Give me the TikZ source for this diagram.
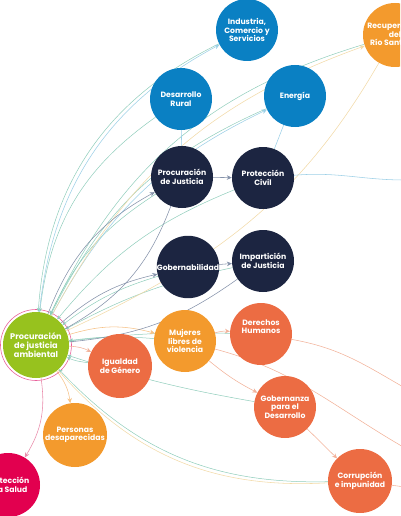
\documentclass[tikz,border=0pt]{standalone}
\usepackage{fontspec}
\newfontfamily\nodefont{Poppins}
\usetikzlibrary{arrows.meta,backgrounds}
\definecolor{cblue}{HTML}{0A80C3}
\definecolor{cnavy}{HTML}{1C2541}
\definecolor{corange}{HTML}{F39A2D}
\definecolor{csalmon}{HTML}{EC6C43}
\definecolor{cgreen}{HTML}{97C21E}
\definecolor{cmagenta}{HTML}{E2004F}
\definecolor{cring}{HTML}{E8609A}
\definecolor{lteal}{HTML}{8FCDBB}
\definecolor{lblue}{HTML}{9DD0E6}
\definecolor{lbeige}{HTML}{F2DAA8}
\definecolor{lnavy}{HTML}{8592AA}
\definecolor{lsalmon}{HTML}{F2B29A}
\definecolor{lorange}{HTML}{F6C287}
\definecolor{lpink}{HTML}{E98BAA}
\tikzset{
  circ/.style={circle, minimum size=62pt, inner sep=0pt, text=white, align=center,
    font=\nodefont\bfseries\fontsize{7.7}{8.6}\selectfont},
  link/.style={line width=0.55pt, -{Stealth[length=5pt,width=4.5pt]}},
  plain/.style={line width=0.55pt},
  back/.style={line width=0.5pt, lteal, -{Stealth[length=4pt,width=3.5pt]}},
}
\begin{document}
\begin{tikzpicture}[x=1pt,y=1pt]
\useasboundingbox (0,0) rectangle (400,-516);
\clip (0,0) rectangle (400,-516);
% nodes
\node[circ, fill=cblue] (ind) at (247,-30) {Industria,\\Comercio y\\Servicios};
\node[circ, fill=corange, minimum size=64pt] (rec) at (395,-35) {Recuperación\\del\\Río Santiago};
\node[circ, fill=cblue] (dr) at (181,-99) {Desarrollo\\Rural};
\node[circ, fill=cblue] (en) at (295,-96) {Energía};
\node[circ, fill=cnavy] (pj) at (182,-177) {Procuración\\de Justicia};
\node[circ, fill=cnavy] (pc) at (263,-178) {Protección\\Civil};
\node[circ, fill=cnavy] (gob) at (188,-267) {Gobernabilidad};
\node[circ, fill=cnavy] (imp) at (263,-261) {Impartición\\de Justicia};
\node[circ, fill=cgreen, minimum size=66pt, font=\nodefont\bfseries\fontsize{8.2}{9}\selectfont] (g) at (36,-345) {Procuración\\de justicia\\ambiental};
\node[circ, fill=csalmon, minimum size=64pt] (ig) at (120,-366) {Igualdad\\de Género};
\node[circ, fill=corange] (mu) at (185,-341) {Mujeres\\libres de\\violencia};
\node[circ, fill=csalmon] (dh) at (261,-334) {Derechos\\Humanos\\[6pt]};
\node[circ, fill=csalmon] (gd) at (285,-407) {Gobernanza\\para el\\Desarrollo};
\node[circ, fill=csalmon, minimum size=64pt] (co) at (360,-481) {Corrupción\\e impunidad};
\node[circ, fill=corange, minimum size=64pt] (pd) at (75,-435) {Personas\\desaparecidas};
\node[circ, fill=cmagenta, minimum size=64pt] (ps) at (8,-485) {Protección\\a la Salud};
\coordinate (offpc) at (405,-180);
\coordinate (offdh) at (405,-388);
\coordinate (offmu) at (405,-448);
\coordinate (offco) at (405,-487);
\begin{pgfonlayer}{background}
\draw[cring, line width=0.6pt] (g) circle (35.5pt);
% teal back links to g
\draw[back] (ind) to[bend right=30] (g);
\draw[back] (dr) to[bend right=24] (g);
\draw[back] (en) to[bend right=20] (g);
\draw[back] (pj) to[bend right=16] (g);
\draw[back] (pc) to[bend right=14] (g);
\draw[back] (gob) to[bend right=10] (g);
\draw[back] (imp) to[bend right=8] (g);
\draw[back] (mu) to[bend right=6] (g);
\draw[back] (dh) to[bend right=4] (g);
\draw[back] (gd) to[bend left=4] (g);
\draw[back] (ig) to[bend left=8] (g);
\draw[back] (co) to[bend left=24] (g);
\draw[back] (rec) to[bend right=24] (g);
% outgoing from g
\draw[link, lblue] (g) to[bend left=28] (ind);
\draw[link, lblue] (g) to[bend left=18] (en);
\draw[link, lbeige] (g) to[bend left=21] (rec);
\draw[link, lnavy] (g) to[bend left=20] (pj);
\draw[link, lnavy] (g) to[bend left=14] (gob);
\draw[link, lsalmon] (g) to[bend left=12] (ig);
\draw[link, lorange] (g) to[bend left=16] (mu);
\draw[link, lorange] (g) to[bend left=15] (pd);
\draw[link, lpink] (g) to[bend left=20] (ps);
\draw[plain, lbeige] (g) to[bend right=26] (co);
% others
\draw[plain, lbeige] (rec) to[out=240,in=25] (g);
\draw[plain, lnavy] (imp) to[bend left=15] (g);
\draw[plain, lnavy] (pj) to[bend left=20] (g);
\draw[link, lnavy] (pj) -- (pc);
\draw[link, lnavy] (gob) -- (imp);
\draw[plain, lblue] (dr) -- (pj);
\draw[plain, lblue] (en) -- (pc);
\draw[plain, lblue] (pc) to[out=5,in=180] (offpc);
\draw[link, lsalmon] (mu) to[bend left=10] (dh);
\draw[link, lsalmon] (mu) to[bend right=6] (gd);
\draw[link, lsalmon] (gd) -- (co);
\draw[plain, lsalmon] (dh) to[out=-10,in=150] (offdh);
\draw[plain, lsalmon] (mu) to[out=-15,in=150] (offmu);
\draw[plain, lsalmon] (co) -- (offco);
\end{pgfonlayer}
\end{tikzpicture}
\end{document}
